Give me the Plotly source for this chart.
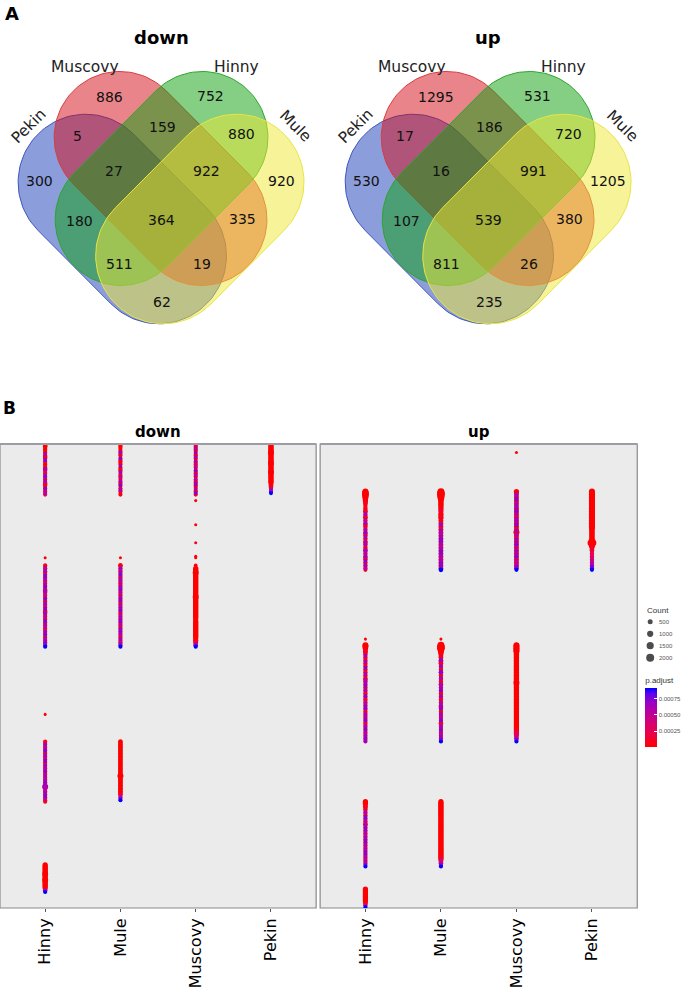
import numpy as np
import plotly.graph_objects as go

W, H = 685, 991

# ---------------- Panel A : Venn data ----------------
venn_sets = ["Pekin", "Muscovy", "Hinny", "Mule"]
region_keys = ["Muscovy", "Hinny", "Pekin+Muscovy", "Muscovy+Hinny", "Hinny+Mule",
               "Pekin", "Pekin+Muscovy+Hinny", "Muscovy+Hinny+Mule", "Mule",
               "Pekin+Hinny", "All", "Muscovy+Mule", "Pekin+Hinny+Mule",
               "Pekin+Muscovy+Mule", "Pekin+Mule"]
down_counts = [886, 752, 5, 159, 880, 300, 27, 922, 920, 180, 364, 335, 511, 19, 62]
up_counts = [1295, 531, 17, 186, 720, 530, 16, 991, 1205, 107, 539, 380, 811, 26, 235]
venn_titles = ["down", "up"]

# ---------------- Panel B : dot plot data ----------------
samples = ["Hinny", "Mule", "Muscovy", "Pekin"]
n_terms = 308
# each segment = a run of consecutive GO-term rows in one column
seg_panel = ["down"] * 18 + ["up"] * 13
seg_sample = ["Hinny", "Mule", "Muscovy", "Pekin", "Muscovy", "Muscovy", "Muscovy",
              "Hinny", "Hinny", "Mule", "Mule", "Muscovy", "Muscovy", "Muscovy",
              "Hinny", "Hinny", "Mule", "Hinny",
              "Muscovy", "Hinny", "Mule", "Muscovy", "Pekin", "Hinny", "Hinny",
              "Mule", "Mule", "Muscovy", "Hinny", "Mule", "Hinny"]
seg_first_term = [1, 1, 1, 1, 38, 54, 66,
                  76, 81, 76, 81, 75, 81, 83,
                  180, 198, 198, 280,
                  6, 32, 32, 32, 32, 130, 134,
                  130, 134, 134, 238, 238, 296]
# p.adjust code per dot: value = 1e-5 + code * 1e-4
seg_padj_code = [
    "0000006111 7200006111 5711630007 2253",
    "0000060007 0001700060 0500600700 6010",
    "0050070060 0600500700 6005007006 0070",
    "0000000000 0000000000 0000000013 579",
    "0", "0", "1",
    "0",
    "1050601706 0150701605 0070160507 0160501706 0510607016 07569",
    "0",
    "0160507016 0501607050 1607015060 7015061705 0160705016 05079",
    "00", "0",
    "0000000000 0000000000 0000000000 0000000000 0000000001 369",
    "0",
    "0160507016 0507016050 7016050701 6050607051 1",
    "0000000000 0000000000 0000000000 0000013579",
    "0000000000 0000001 59",
    "0",
    "0000000100 0101060105 0601050701 6015060106 0506107016 051",
    "0000000000 0010001000 1060106050 6070605060 7060506070 609",
    "0060070050 6007005006 0070006005 0060070050 6007005006 079",
    "0000000000 0000000000 0000000000 0000000111 2223344556 789",
    "0",
    "0000100601 0601070106 0105060701 6010701050 6070106050 7010607050 60706",
    "0",
    "0000000100 6010601070 1060105060 7010601050 6070106050 7010607050 60709",
    "0000000000 0000000000 0000000000 0000000000 0000000000 0000000112 34579",
    "0000101601 7060506070 6050607060 5060706050 6079",
    "0000000000 0000000000 0000000000 0000000112 3579",
    "0000000000 139",
]
# Count code per dot (see count_of_code)
seg_count_code = [
    "4433333343 3333334333 3333334333 3333",
    "3332333323 3333233332 3332333323 3323",
    "3333323333 2333332333 3323333332 3333",
    "5555565555 5565555565 5555554443 333",
    "1", "1", "1",
    "1",
    "3333333333 3333333433 3333333333 3433333333 3333333333 33333",
    "1",
    "4333333333 3333333333 3333333333 3333333333 3333333333 33333",
    "11", "2",
    "5556555555 5555555556 5555555555 5555455555 5555555454 443",
    "1",
    "3333333333 3333333333 3333333333 6333333333 3",
    "4444444444 4444444444 4446444444 4444443333",
    "5555556555 6555554 43",
    "1",
    "6776655443 3334333433 3343333343 3333433334 3333433333 333",
    "7887765555 5454454544 4444444444 4444444444 4444444444 444",
    "5444444444 4444444444 4444444644 4444444444 4444444444 443",
    "6666666666 6666666666 6666655555 5555956444 3333333333 333",
    "1",
    "6654443333 3333333333 3334333333 3333333333 3333333333 3333333333 33333",
    "1",
    "7886654443 4443333343 3333334333 3333333333 3433333333 3343333333 33333",
    "6666655555 5555555555 5555565555 5555555555 5555555555 5555555555 44433",
    "5544433333 3333343333 3333333333 3333333333 3333",
    "5555555555 5555555555 5555555555 5555555554 4433",
    "5555555554 433",
]
count_of_code = {"1": 60, "2": 150, "3": 250, "4": 400, "5": 600,
                 "6": 900, "7": 1300, "8": 1800, "9": 2600}
legend_counts = [500, 1000, 1500, 2000]
padj_ticks = [0.00025, 0.00050, 0.00075]
padj_min, padj_max = 0.00001, 0.00091


def dot_size(c):
    return 2 + 0.134 * np.sqrt(c)


def px_y(py):  # pixel row -> paper fraction
    return 1 - py / H


fig = go.Figure()

# ---------------- Venn drawing ----------------
# geometry (pixel space, down diagram): centre x, centre y, direction sign,
# half distance between cap centres, cap radius
venn_geom = {"Pekin": (123, 219, 1, 52, 68),
             "Muscovy": (161.5, 178.5, 1, 58, 66),
             "Hinny": (162.5, 178.5, -1, 58, 66),
             "Mule": (201, 219, -1, 52, 68)}
venn_fill = {"Pekin": "rgba(25,60,185,0.5)", "Muscovy": "rgba(212,12,22,0.5)",
             "Hinny": "rgba(12,160,12,0.5)", "Mule": "rgba(238,232,52,0.5)"}
venn_line = {"Pekin": "rgb(60,85,190)", "Muscovy": "rgb(215,60,65)",
             "Hinny": "rgb(45,165,45)", "Mule": "rgb(232,228,70)"}
venn_label_pos = {"Pekin": (29, 126, -45), "Muscovy": (85, 67, 0),
                  "Hinny": (238, 67, 0), "Mule": (297, 126, 45)}
region_pos = [(110, 97), (212, 96), (78, 136), (163, 127), (243, 134), (40, 181),
              (115, 171), (208, 171), (283, 181), (80, 221), (162, 220), (244, 219),
              (120, 264), (203, 264), (163, 302)]
venn_dx = [0, 329]


def stadium(cx, cy, sgn, L, r, n=60):
    ux, uy = sgn / np.sqrt(2), 1 / np.sqrt(2)
    vx, vy = -uy, ux
    ang = np.linspace(-np.pi / 2, np.pi / 2, n)
    xs, ys = [], []
    for c in (1, -1):
        bx, by = cx + c * L * ux, cy + c * L * uy
        dx = c * (np.cos(ang) * ux + np.sin(ang) * vx)
        dy = c * (np.cos(ang) * uy + np.sin(ang) * vy)
        xs += list(bx + r * dx)
        ys += list(by + r * dy)
    xs.append(xs[0]); ys.append(ys[0])
    return xs, ys


annotations = []
for k, (title, counts) in enumerate(zip(venn_titles, [down_counts, up_counts])):
    dx = venn_dx[k]
    for s in venn_sets:
        cx, cy, sg, L, r = venn_geom[s]
        xs, ys = stadium(cx + dx, cy, sg, L, r)
        fig.add_trace(go.Scatter(x=xs, y=ys, mode="lines", fill="toself",
                                 fillcolor=venn_fill[s],
                                 line=dict(color=venn_line[s], width=1),
                                 hoverinfo="skip", showlegend=False,
                                 xaxis="x", yaxis="y"))
        lx, ly, ang = venn_label_pos[s]
        annotations.append(dict(x=lx + dx, y=ly, xref="x", yref="y", text=s,
                                showarrow=False, textangle=ang,
                                font=dict(size=15.5, color="#222")))
    for (rx, ry), v in zip(region_pos, counts):
        annotations.append(dict(x=rx + dx, y=ry, xref="x", yref="y", text=str(v),
                                showarrow=False, font=dict(size=14, color="#111")))
    annotations.append(dict(x=162 + dx, y=37, xref="x", yref="y",
                            text="<b>%s</b>" % title, showarrow=False,
                            font=dict(size=18, color="black")))

annotations.append(dict(x=12, y=13, xref="x", yref="y", text="<b>A</b>",
                        showarrow=False, font=dict(size=18, color="black")))
annotations.append(dict(x=10, y=408, xref="x", yref="y", text="<b>B</b>",
                        showarrow=False, font=dict(size=17, color="black")))

# ---------------- Dot plot ----------------
colorscale = [[0, "#FF0000"], [0.25, "#E80050"], [0.5, "#C90089"],
              [0.75, "#9A00C3"], [0.9, "#5F00ED"], [1, "#0000FF"]]

for pi, panel in enumerate(["down", "up"]):
    xs, ys, cs, ss = [], [], [], []
    for p, smp, t0, pc, cc in zip(seg_panel, seg_sample, seg_first_term,
                                   seg_padj_code, seg_count_code):
        if p != panel:
            continue
        pc = pc.replace(" ", "")
        cc = cc.replace(" ", "")
        assert len(pc) == len(cc), (smp, t0, len(pc), len(cc))
        for i, (a, b) in enumerate(zip(pc, cc)):
            xs.append(smp)
            ys.append(t0 + i)
            cs.append(padj_min + int(a) * 0.0001)
            ss.append(dot_size(count_of_code[b]))
    # red dots first, purple/blue ones drawn over them
    order = np.argsort(np.array(cs), kind="stable")
    xs = [xs[i] for i in order]; ys = [ys[i] for i in order]
    cs = [cs[i] for i in order]; ss = [ss[i] for i in order]
    marker = dict(size=ss, color=cs, colorscale=colorscale, cmin=padj_min,
                  cmax=padj_max, line=dict(width=0), opacity=1)
    if pi == 0:
        marker["showscale"] = True
        marker["colorbar"] = dict(
            x=649 / W, xanchor="left", y=px_y(674), yanchor="top",
            len=73, lenmode="pixels", thickness=12, thicknessmode="pixels",
            title=dict(text="p.adjust", side="top",
                       font=dict(size=8, color="#333", family="Liberation Sans")),
            tickvals=padj_ticks, ticktext=["%.5f" % v for v in padj_ticks],
            tickfont=dict(size=6, color="#555", family="Liberation Sans"),
            ticks="inside", tickcolor="white", ticklen=3, outlinewidth=0,
            xpad=0, ypad=0)
    else:
        marker["showscale"] = False
    ax = "x2" if pi == 0 else "x3"
    ay = "y2" if pi == 0 else "y3"
    fig.add_trace(go.Scatter(x=xs, y=ys, mode="markers", marker=marker,
                             xaxis=ax, yaxis=ay, showlegend=False,
                             hoverinfo="skip", cliponaxis=True))

# Count legend
leg_y = [621.7, 633.8, 645.7, 657.7]
fig.add_trace(go.Scatter(x=[654] * 4, y=leg_y, mode="markers",
                         marker=dict(size=[dot_size(c) for c in legend_counts],
                                     color="black", line=dict(width=0)),
                         xaxis="x", yaxis="y", showlegend=False, hoverinfo="skip"))
annotations.append(dict(x=649, y=610, xref="x", yref="y", text="Count",
                        xanchor="left", showarrow=False,
                        font=dict(size=8, color="#333", family="Liberation Sans")))
for c, yy in zip(legend_counts, leg_y):
    annotations.append(dict(x=661, y=yy, xref="x", yref="y", text=str(c),
                            xanchor="left", showarrow=False,
                            font=dict(size=6, color="#555", family="Liberation Sans")))

# panels backgrounds / borders / strips
shapes = []
for ax, ay, title in (("x2", "y2", "down"), ("x3", "y3", "up")):
    shapes.append(dict(type="rect", xref=ax + " domain", yref=ay + " domain",
                       x0=0, x1=1, y0=0, y1=1, fillcolor="#EBEBEB",
                       line=dict(color="#8a8a8a", width=1.2), layer="below"))
    shapes.append(dict(type="line", xref=ax + " domain", yref=ay + " domain",
                       x0=0, x1=1, y0=1, y1=1,
                       line=dict(color="#9c9ca8", width=2), layer="above"))
    annotations.append(dict(x=0.5, xref=ax + " domain", y=px_y(432), yref="paper",
                            text="<b>%s</b>" % title, showarrow=False,
                            font=dict(size=15, color="black")))

xcommon = dict(type="category", categoryorder="array", categoryarray=samples,
               range=[-0.6, 3.6], showgrid=False, zeroline=False, showline=False,
               ticks="outside", ticklen=3, tickcolor="#555", tickangle=-90,
               tickfont=dict(size=16, color="black", family="DejaVu Sans"),
               fixedrange=True)
ycommon = dict(range=[n_terms + 0.6, 0.4], showgrid=False, zeroline=False,
               showline=False, showticklabels=False, ticks="", fixedrange=True)
ydom = [px_y(908), px_y(444)]

fig.update_layout(
    width=W, height=H, margin=dict(l=0, r=0, t=0, b=0),
    paper_bgcolor="white", plot_bgcolor="rgba(0,0,0,0)",
    font=dict(family="DejaVu Sans", color="black"),
    xaxis=dict(domain=[0, 1], range=[0, W], visible=False, fixedrange=True),
    yaxis=dict(domain=[0, 1], range=[H, 0], visible=False, fixedrange=True),
    xaxis2=dict(domain=[0, 318 / W], anchor="y2", **xcommon),
    yaxis2=dict(domain=ydom, anchor="x2", **ycommon),
    xaxis3=dict(domain=[322 / W, 641 / W], anchor="y3", **xcommon),
    yaxis3=dict(domain=ydom, anchor="x3", **ycommon),
    shapes=shapes, annotations=annotations, showlegend=False,
)

fig.write_html("out.html", config={"displayModeBar": False},
               post_script="document.body.style.margin='0';"
                           "document.body.style.overflow='hidden';")
